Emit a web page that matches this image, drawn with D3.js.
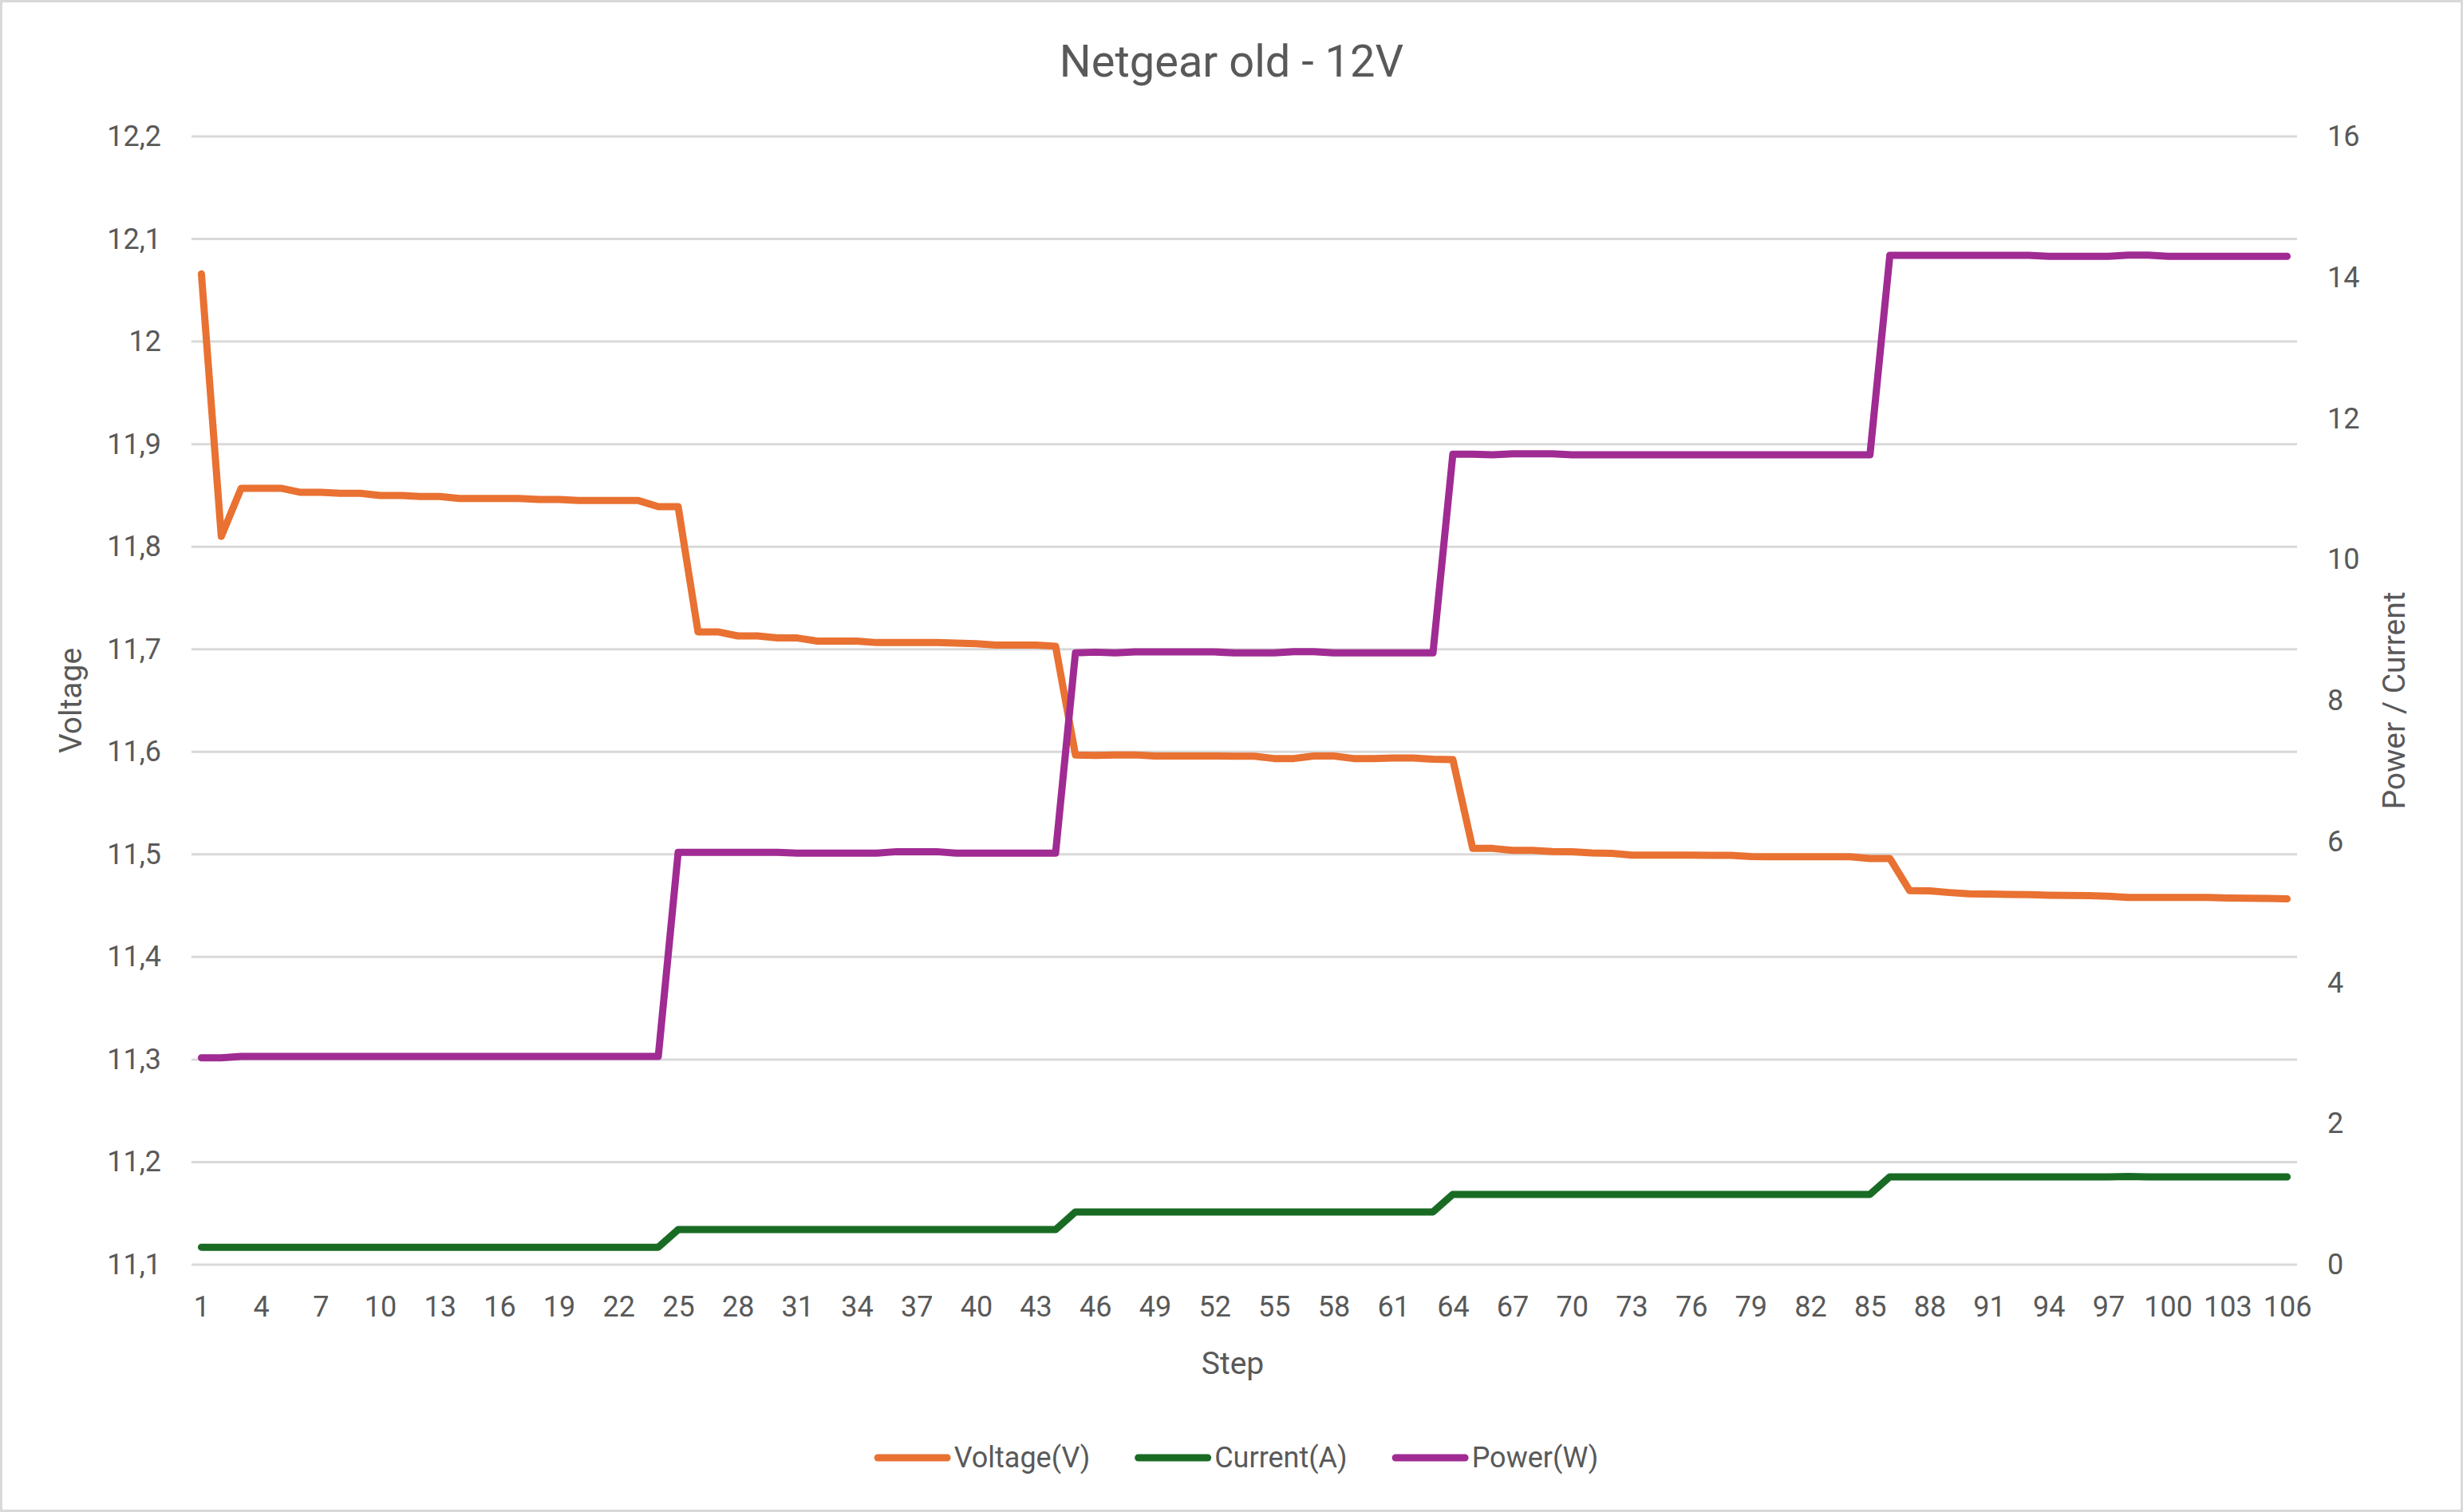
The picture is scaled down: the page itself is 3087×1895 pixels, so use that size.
<!DOCTYPE html>
<html lang="en">
<head>
    <meta charset="UTF-8">
    <title>Netgear old - 12V</title>
    <script src="https://d3js.org/d3.v7.min.js"></script>
    <style>
        body { margin: 0; background: #fff; }
        text { font-family: Roboto, "Liberation Sans", sans-serif; fill: #595959; }
    </style>
</head>
<body>
<script>
// Step numbers (categories) and the labels shown on the x axis
const steps = d3.range(1, 107);
const stepLabels = [1, 4, 7, 10, 13, 16, 19, 22, 25, 28, 31, 34, 37, 40, 43, 46, 49, 52,
    55, 58, 61, 64, 67, 70, 73, 76, 79, 82, 85, 88, 91, 94, 97, 100, 103, 106];

const voltage = [
    12.066, 11.810, 11.857, 11.857, 11.857, 11.853, 11.853, 11.852, 11.852, 11.850,
    11.850, 11.849, 11.849, 11.847, 11.847, 11.847, 11.847, 11.846, 11.846, 11.845,
    11.845, 11.845, 11.845, 11.839, 11.839, 11.717, 11.717, 11.713, 11.713, 11.711,
    11.711, 11.708, 11.708, 11.708, 11.7065, 11.7065, 11.7065, 11.7065, 11.706, 11.7055,
    11.704, 11.704, 11.704, 11.703, 11.597, 11.5966, 11.597, 11.597, 11.596, 11.596,
    11.596, 11.596, 11.5958, 11.5957, 11.5935, 11.5935, 11.596, 11.596, 11.5935, 11.5935,
    11.594, 11.594, 11.5928, 11.5925, 11.5058, 11.5058, 11.504, 11.504, 11.5027, 11.5025,
    11.5014, 11.501, 11.4993, 11.4993, 11.4993, 11.4993, 11.499, 11.499, 11.498, 11.4978,
    11.4978, 11.4978, 11.4978, 11.4978, 11.496, 11.496, 11.4646, 11.4644, 11.4628, 11.4615,
    11.4613, 11.461, 11.4608, 11.4602, 11.46, 11.4598, 11.4593, 11.4581, 11.458, 11.458,
    11.458, 11.458, 11.4575, 11.4572, 11.457, 11.4566
];

const current = [
    0.247, 0.247, 0.247, 0.247, 0.247, 0.247, 0.247, 0.247, 0.247, 0.247,
    0.247, 0.247, 0.247, 0.247, 0.247, 0.247, 0.247, 0.247, 0.247, 0.247,
    0.247, 0.247, 0.247, 0.247, 0.497, 0.497, 0.497, 0.497, 0.497, 0.497,
    0.497, 0.497, 0.497, 0.497, 0.497, 0.497, 0.497, 0.497, 0.497, 0.497,
    0.497, 0.497, 0.497, 0.497, 0.747, 0.747, 0.747, 0.747, 0.747, 0.747,
    0.747, 0.747, 0.747, 0.747, 0.747, 0.747, 0.747, 0.747, 0.747, 0.747,
    0.747, 0.747, 0.747, 0.997, 0.997, 0.997, 0.997, 0.997, 0.997, 0.997,
    0.997, 0.997, 0.997, 0.997, 0.997, 0.997, 0.997, 0.997, 0.997, 0.997,
    0.997, 0.997, 0.997, 0.997, 0.997, 1.245, 1.245, 1.245, 1.245, 1.245,
    1.245, 1.245, 1.245, 1.245, 1.245, 1.245, 1.245, 1.25, 1.245, 1.245,
    1.245, 1.245, 1.245, 1.245, 1.245, 1.245
];

const power = [
    2.934, 2.934, 2.953, 2.953, 2.953, 2.953, 2.953, 2.953, 2.953, 2.953,
    2.953, 2.953, 2.953, 2.953, 2.953, 2.953, 2.953, 2.953, 2.953, 2.953,
    2.953, 2.953, 2.953, 2.953, 5.846, 5.846, 5.846, 5.846, 5.846, 5.846,
    5.835, 5.835, 5.835, 5.835, 5.835, 5.857, 5.857, 5.857, 5.835, 5.835,
    5.835, 5.835, 5.835, 5.835, 8.675, 8.686, 8.675, 8.69, 8.69, 8.69,
    8.69, 8.69, 8.675, 8.675, 8.675, 8.693, 8.693, 8.675, 8.675, 8.675,
    8.675, 8.675, 8.675, 11.493, 11.493, 11.486, 11.50, 11.50, 11.50, 11.485,
    11.485, 11.485, 11.485, 11.485, 11.485, 11.485, 11.485, 11.485, 11.485, 11.485,
    11.485, 11.485, 11.485, 11.485, 11.485, 14.314, 14.314, 14.314, 14.314, 14.314,
    14.314, 14.314, 14.314, 14.30, 14.30, 14.30, 14.30, 14.317, 14.317, 14.30,
    14.30, 14.30, 14.30, 14.30, 14.30, 14.30
];

const leftTicks = [11.1, 11.2, 11.3, 11.4, 11.5, 11.6, 11.7, 11.8, 11.9, 12, 12.1, 12.2];
const rightTicks = [0, 2, 4, 6, 8, 10, 12, 14, 16];

const series = [
    {name: "Voltage(V)", values: voltage, axis: "left", color: "#E97132"},
    {name: "Current(A)", values: current, axis: "right", color: "#196B24"},
    {name: "Power(W)", values: power, axis: "right", color: "#A02B93"}
];

const W = 3087, H = 1895;
const plot = {left: 240, right: 2879, top: 171, bottom: 1585};
const grey = "#D9D9D9";
const lineWidth = 9;

const svg = d3.select("body").append("svg")
    .attr("width", W)
    .attr("height", H);

// chart border
svg.append("rect")
    .attr("x", 1.5).attr("y", 1.5)
    .attr("width", W - 3).attr("height", H - 3)
    .attr("fill", "#fff")
    .attr("stroke", grey)
    .attr("stroke-width", 3);

// Scales
const x = d3.scalePoint().domain(steps).range([plot.left, plot.right]).padding(0.5);
const yLeft = d3.scaleLinear().domain([11.1, 12.2]).range([plot.bottom, plot.top]);
const yRight = d3.scaleLinear().domain([0, 16]).range([plot.bottom, plot.top]);

const comma = d3.formatLocale({decimal: ",", thousands: ".", grouping: [3], currency: ["", ""]}).format("~g");

// Gridlines (left axis)
svg.append("g")
    .selectAll("line")
    .data(leftTicks)
    .join("line")
    .attr("x1", plot.left).attr("x2", plot.right)
    .attr("y1", d => yLeft(d)).attr("y2", d => yLeft(d))
    .attr("stroke", grey)
    .attr("stroke-width", 3);

// Axes
const fontTick = 36;
const leftAxis = svg.append("g")
    .attr("transform", `translate(${plot.left - 38},0)`)
    .call(d3.axisLeft(yLeft).tickValues(leftTicks).tickFormat(comma).tickSize(0).tickPadding(0));
const rightAxis = svg.append("g")
    .attr("transform", `translate(${plot.right + 38},0)`)
    .call(d3.axisRight(yRight).tickValues(rightTicks).tickSize(0).tickPadding(0));
const bottomAxis = svg.append("g")
    .attr("transform", `translate(0,${plot.bottom + 39})`)
    .call(d3.axisBottom(x).tickValues(stepLabels).tickSize(0).tickPadding(0));

[leftAxis, rightAxis, bottomAxis].forEach(a => {
    a.select(".domain").remove();
    a.selectAll("text")
        .style("font-size", fontTick + "px")
        .attr("fill", "#595959");
});

// Lines
const lineGen = s => d3.line()
    .x((d, i) => x(steps[i]))
    .y(d => (s.axis === "left" ? yLeft : yRight)(d));

svg.append("g")
    .selectAll("path")
    .data(series)
    .join("path")
    .attr("d", s => lineGen(s)(s.values))
    .attr("fill", "none")
    .attr("stroke", s => s.color)
    .attr("stroke-width", lineWidth)
    .attr("stroke-linejoin", "round")
    .attr("stroke-linecap", "round");

// Titles
svg.append("text")
    .attr("x", W / 2).attr("y", 96)
    .attr("text-anchor", "middle")
    .style("font-size", "56px")
    .text("Netgear old - 12V");

svg.append("text")
    .attr("transform", `translate(89,${(plot.top + plot.bottom) / 2}) rotate(-90)`)
    .attr("text-anchor", "middle")
    .attr("dominant-baseline", "central")
    .style("font-size", "39px")
    .text("Voltage");

svg.append("text")
    .attr("transform", `translate(3001,${(plot.top + plot.bottom) / 2}) rotate(-90)`)
    .attr("text-anchor", "middle")
    .attr("dominant-baseline", "central")
    .style("font-size", "39px")
    .text("Power / Current");

svg.append("text")
    .attr("x", 1545).attr("y", 1709)
    .attr("text-anchor", "middle")
    .attr("dominant-baseline", "central")
    .style("font-size", "39px")
    .text("Step");

// Legend
const legendY = 1827, swatch = 96, gapText = 4, gapItem = 56;
const legend = svg.append("g");
const items = legend.selectAll("g")
    .data(series)
    .join("g");
items.append("line")
    .attr("x1", lineWidth / 2).attr("x2", swatch - lineWidth / 2)
    .attr("y1", 0).attr("y2", 0)
    .attr("stroke", d => d.color)
    .attr("stroke-width", lineWidth)
    .attr("stroke-linecap", "round");
items.append("text")
    .attr("x", swatch + gapText)
    .attr("dominant-baseline", "central")
    .style("font-size", fontTick + "px")
    .text(d => d.name);

let offset = 0;
items.each(function () {
    const g = d3.select(this);
    g.attr("transform", `translate(${offset},${legendY})`);
    offset += swatch + gapText + g.select("text").node().getComputedTextLength() + gapItem;
});
const legendWidth = offset - gapItem;
legend.attr("transform", `translate(${1549.5 - legendWidth / 2},0)`);
</script>
</body>
</html>
